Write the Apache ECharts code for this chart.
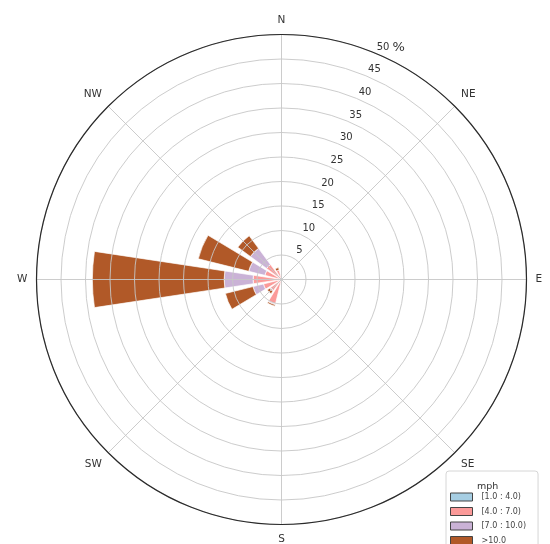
<!DOCTYPE html>
<html>
<head>
<meta charset="utf-8">
<script src="https://cdn.jsdelivr.net/npm/echarts@6/dist/echarts.min.js"></script>
<style>html,body{margin:0;padding:0;background:#fff;}#c{width:550px;height:544px;}</style>
</head>
<body>
<div id="c"></div>
<script>
const directions = ['N','NNE','NE','ENE','E','ESE','SE','SSE','S','SSW','SW','WSW','W','WNW','NW','NNW'];
const compassLabels = ['N','NE','E','SE','S','SW','W','NW'];
const radiusTicks = [5,10,15,20,25,30,35,40,45,50];
const binNames = ['[1.0 : 4.0)','[4.0 : 7.0)','[7.0 : 10.0)','>10.0'];
const binColors = ['#a6cee3','#fb9a99','#cab2d6','#b15928'];
// percentage of time per direction for each speed bin
const bin1 = [0,0,0,0,0,0,0,0,0,0.2,0.2,0.3,0.3,0.3,0.3,0.2];
const bin2 = [0,0,0,0,0,0,0,0,0,4.9,2.6,3.5,5.5,3.2,3.5,1.8];
const bin3 = [0,0,0,0,0,0,0,0,0,0.2,0.2,2.2,5.9,3.4,4.1,0];
const bin4 = [0,0,0,0,0,0,0,0,0,0.3,0.6,5.8,26.9,10.6,3.2,0.5];
const bins = [bin1,bin2,bin3,bin4];

const C = [281.5, 279.5];
const R = 245;
const chart = echarts.init(document.getElementById('c'));
const font = 'DejaVu Sans';

const series = bins.map((d,i)=>({
  type:'bar', name: binNames[i], data: d, coordinateSystem:'polar', polarIndex:0,
  stack:'wind', barWidth:'76%', z:2,
  itemStyle:{color: binColors[i], borderColor:'rgba(255,255,255,0.85)', borderWidth:0.8},
  emphasis:{disabled:true}
}));

chart.setOption({
  animation:false,
  backgroundColor:'#fff',
  title:{text:'mph', left:472, top:477, textStyle:{fontFamily:font, fontSize:9.5, fontWeight:'normal', color:'#333'}},
  legend:{
    data: binNames, orient:'vertical', left:446, top:471, height:110,
    padding:[21,12,12,4], itemGap:4.5, itemWidth:22, itemHeight:8,
    backgroundColor:'#fff', borderColor:'#d6d6d6', borderWidth:1, borderRadius:3,
    icon:'rect', itemStyle:{borderColor:'#444', borderWidth:1},
    textStyle:{fontFamily:font, fontSize:8, color:'#444', lineHeight:10, padding:[0,0,0,4]}
  },
  polar:[
    {center:C, radius:R},
    {center:C, radius:R},
    {center:C, radius:R}
  ],
  angleAxis:[
    {polarIndex:0, type:'category', data:directions, startAngle:101.25, clockwise:true,
     axisLine:{show:false}, axisTick:{show:false}, axisLabel:{show:false}, splitLine:{show:false}},
    {polarIndex:1, type:'value', min:0, max:360, interval:45, startAngle:90, clockwise:true, z:3,
     axisLine:{show:true, lineStyle:{color:'#2a2a2a', width:1.2}},
     axisTick:{show:false},
     axisLabel:{show:true, margin:9, fontFamily:font, fontSize:10.5, color:'#333',
       formatter:(v)=> v>=360 ? '' : compassLabels[Math.round(v/45)]},
     splitLine:{show:true, lineStyle:{color:'#c6c6c6', width:0.9}}},
    {polarIndex:2, type:'value', min:0, max:360, startAngle:67.5, clockwise:true,
     axisLine:{show:false}, axisTick:{show:false}, axisLabel:{show:false}, splitLine:{show:false}}
  ],
  radiusAxis:[
    {polarIndex:0, type:'value', min:0, max:50,
     axisLine:{show:false}, axisTick:{show:false}, axisLabel:{show:false}, splitLine:{show:false}},
    {polarIndex:1, type:'value', min:0, max:50, interval:5, z:3,
     axisLine:{show:false}, axisTick:{show:false}, axisLabel:{show:false},
     splitLine:{show:true, lineStyle:{color:'#c6c6c6', width:0.9}}},
    {polarIndex:2, type:'value', min:0, max:50, interval:5, z:4,
     axisLine:{show:false}, axisTick:{show:false}, splitLine:{show:false},
     axisLabel:{show:true, margin:0, align:'center', verticalAlign:'middle', padding:[0,0,12,17],
       fontFamily:font, fontSize:10, color:'#333',
       formatter:(v)=> v===0 ? '' : (v===50 ? '{s|}{a|50} {b|%}' : String(v)),
       rich:{s:{width:14}, a:{fontFamily:font, fontSize:10, color:'#333'}, b:{fontFamily:font, fontSize:13, color:'#333'}}}}
  ],
  series: series
});
</script>
</body>
</html>
